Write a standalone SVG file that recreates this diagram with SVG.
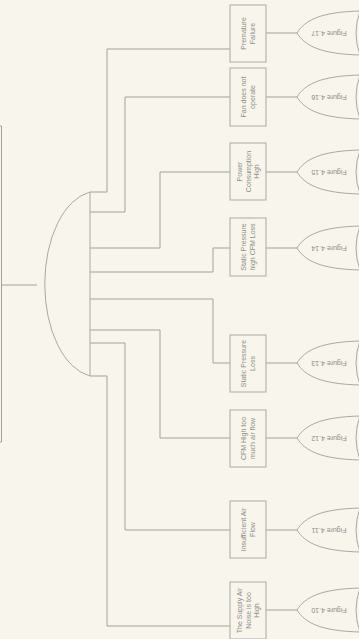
<svg xmlns="http://www.w3.org/2000/svg" width="359" height="639" viewBox="0 0 359 639">
<style>
.ln{fill:none;stroke:#a3a29c;stroke-width:1}
.bx{fill:#f8f5ec;stroke:#aaa9a2;stroke-width:1}
.g{fill:#f8f5ec;stroke:#aaa9a2;stroke-width:1}
.t{font-family:"Liberation Sans",Arial,sans-serif;font-size:7px;fill:#8e8d88;text-anchor:middle}
</style>
<rect width="359" height="639" fill="#f8f5ec"/>
<g id="connectors">
<path class="ln" d="M0,126 H1.5 V442 H0"/>
<path class="ln" d="M1.5,285 H37"/>
<path class="ln" d="M90,192 H107 V49 H230"/>
<path class="ln" d="M90,212 H125 V97 H230"/>
<path class="ln" d="M90,248 H160 V172 H230"/>
<path class="ln" d="M90,272 H213 V248 H230"/>
<path class="ln" d="M90,299 H213 V363 H230"/>
<path class="ln" d="M90,330 H160 V438 H230"/>
<path class="ln" d="M90,343 H125 V530 H230"/>
<path class="ln" d="M90,376 H107 V626 H230"/>
<path class="ln" d="M266,33 H297"/>
<path class="ln" d="M266,97 H297"/>
<path class="ln" d="M266,172 H297"/>
<path class="ln" d="M266,248 H297"/>
<path class="ln" d="M266,363 H297"/>
<path class="ln" d="M266,438 H297"/>
<path class="ln" d="M266,530 H297"/>
<path class="ln" d="M266,610 H297"/>
</g>
<g id="and-gate">
<path class="g" d="M90,192 A53,93 0 0 0 90,376 Z"/>
</g>
<g id="box-premature">
<rect class="bx" x="230" y="5" width="36" height="57"/>
<text class="t" transform="translate(248,33.5) rotate(-90)"><tspan x="0" y="-2">Premature</tspan><tspan x="0" y="6.5">Failure</tspan></text>
</g>
<g id="box-fan">
<rect class="bx" x="230" y="68" width="36" height="58"/>
<text class="t" transform="translate(248,97) rotate(-90)"><tspan x="0" y="-2">Fan does not</tspan><tspan x="0" y="6.5">operate</tspan></text>
</g>
<g id="box-power">
<rect class="bx" x="230" y="143" width="36" height="57"/>
<text class="t" transform="translate(248,171.5) rotate(-90)"><tspan x="0" y="-6">Power</tspan><tspan x="0" y="2.5">Consumption</tspan><tspan x="0" y="11">High</tspan></text>
</g>
<g id="box-static-high">
<rect class="bx" x="230" y="218" width="36" height="58"/>
<text class="t" transform="translate(248,247) rotate(-90)"><tspan x="0" y="-2">Static Pressure</tspan><tspan x="0" y="6.5">high CFM Loss</tspan></text>
</g>
<g id="box-static-loss">
<rect class="bx" x="230" y="335" width="36" height="57"/>
<text class="t" transform="translate(248,363.5) rotate(-90)"><tspan x="0" y="-2">Static Pressure</tspan><tspan x="0" y="6.5">Loss</tspan></text>
</g>
<g id="box-cfm">
<rect class="bx" x="230" y="410" width="36" height="57"/>
<text class="t" transform="translate(248,438.5) rotate(-90)"><tspan x="0" y="-2">CFM High too</tspan><tspan x="0" y="6.5">much air flow</tspan></text>
</g>
<g id="box-insufficient">
<rect class="bx" x="230" y="501" width="36" height="57"/>
<text class="t" transform="translate(248,529.5) rotate(-90)"><tspan x="0" y="-2">Insufficient Air</tspan><tspan x="0" y="6.5">Flow</tspan></text>
</g>
<g id="box-noise">
<rect class="bx" x="230" y="582" width="36" height="57"/>
<text class="t" transform="translate(248,610.5) rotate(-90)"><tspan x="0" y="-6">The Supply Air</tspan><tspan x="0" y="2.5">Noise is too</tspan><tspan x="0" y="11">High</tspan></text>
</g>
<defs>
<path id="or" class="g" d="M0,0 C8,-13 24,-21 63,-22 Q55,0 63,22 C24,21 8,13 0,0 Z"/>
</defs>
<g id="or-417"><use href="#or" x="297" y="33"/><text class="t" transform="translate(329,33) rotate(180)" y="2.5">Figure 4.17</text></g>
<g id="or-416"><use href="#or" x="297" y="97"/><text class="t" transform="translate(329,97) rotate(180)" y="2.5">Figure 4.16</text></g>
<g id="or-415"><use href="#or" x="297" y="172"/><text class="t" transform="translate(329,172) rotate(180)" y="2.5">Figure 4.15</text></g>
<g id="or-414"><use href="#or" x="297" y="248"/><text class="t" transform="translate(329,248) rotate(180)" y="2.5">Figure 4.14</text></g>
<g id="or-413"><use href="#or" x="297" y="363"/><text class="t" transform="translate(329,363) rotate(180)" y="2.5">Figure 4.13</text></g>
<g id="or-412"><use href="#or" x="297" y="438"/><text class="t" transform="translate(329,438) rotate(180)" y="2.5">Figure 4.12</text></g>
<g id="or-411"><use href="#or" x="297" y="530"/><text class="t" transform="translate(329,530) rotate(180)" y="2.5">Figure 4.11</text></g>
<g id="or-410"><use href="#or" x="297" y="610"/><text class="t" transform="translate(329,610) rotate(180)" y="2.5">Figure 4.10</text></g>
</svg>
